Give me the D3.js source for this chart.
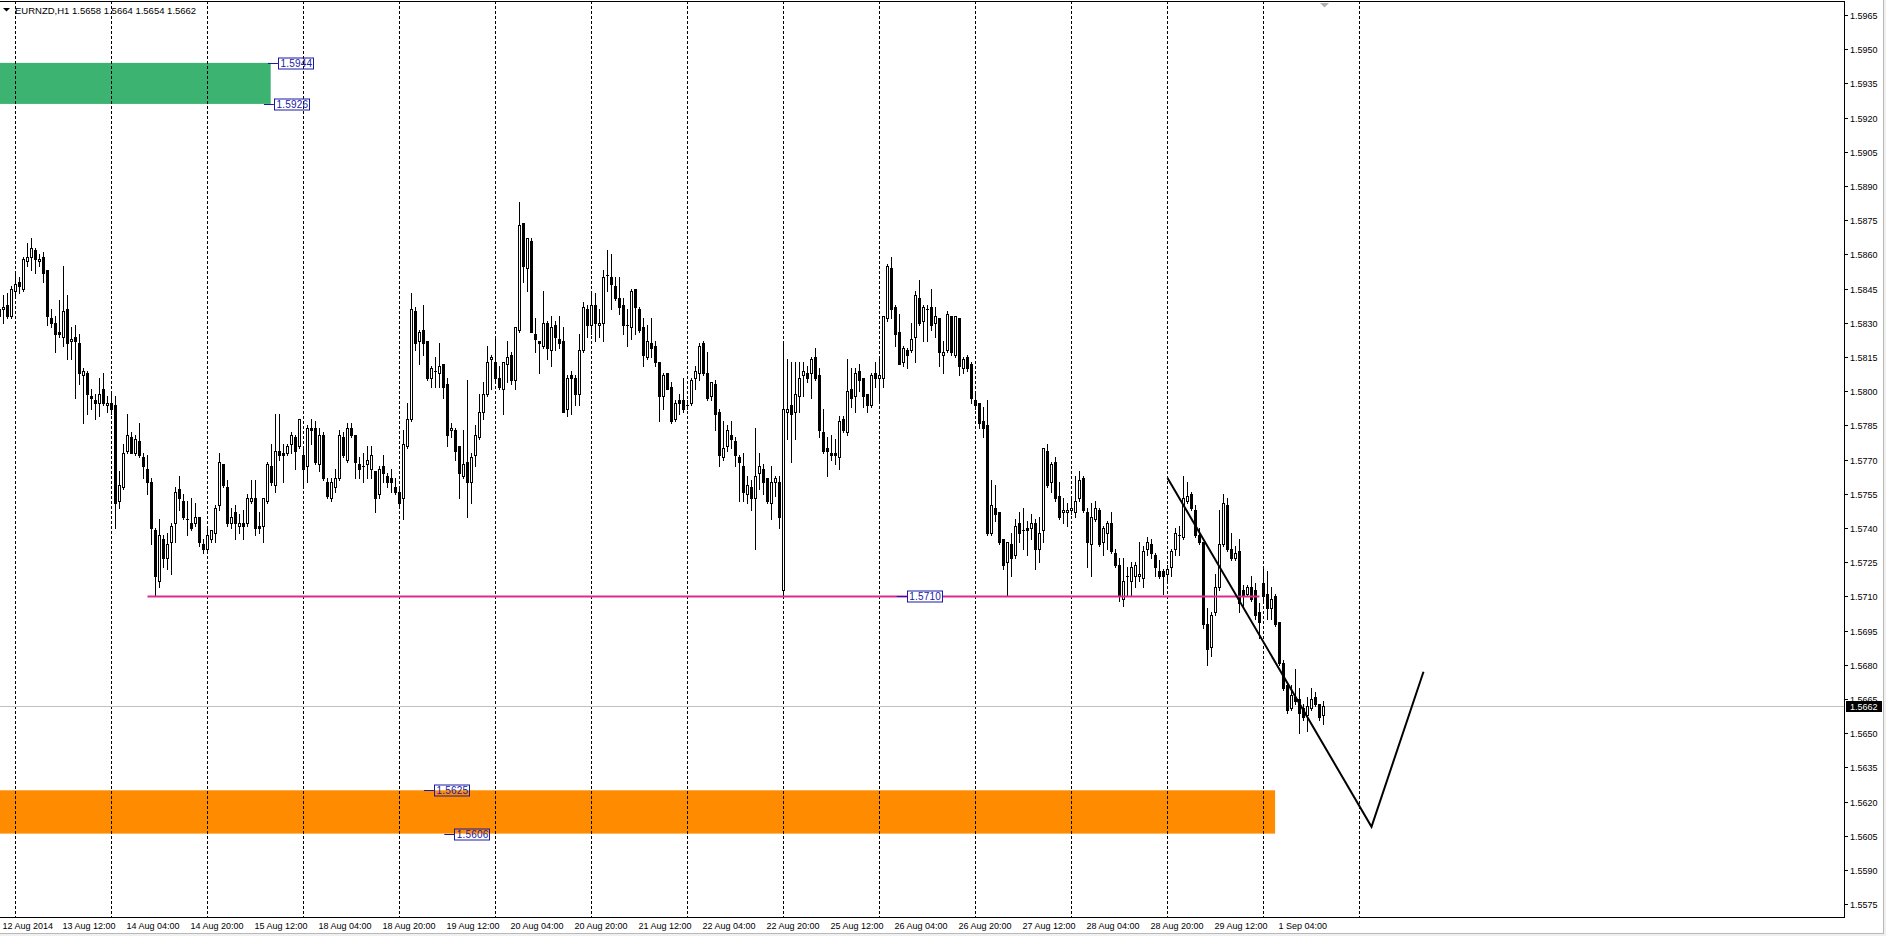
<!DOCTYPE html>
<html><head><meta charset="utf-8">
<script src="https://cdn.jsdelivr.net/npm/d3@7"></script>
<style>html,body{margin:0;padding:0;background:#fff;overflow:hidden}svg{display:block}</style>
</head><body><svg id="c" width="1886" height="936"></svg>
<script>
// ---------------- DATA ----------------
const symbolTitle = "EURNZD,H1";
const lastQuote = [1.5658, 1.5664, 1.5654, 1.5662];
const currentPrice = 1.5662;

const opens = [
1.5836,1.5836,1.5838,1.5833,1.5844,1.5848,1.5845,1.5857,1.5859,1.5862,
1.5857,1.5859,1.5853,1.5832,1.5830,1.5826,1.5824,1.5836,1.5822,1.5824,
1.5821,1.5807,1.5808,1.5798,1.5796,1.5795,1.5801,1.5794,1.5795,1.5794,
1.5752,1.5758,1.5774,1.5780,1.5773,1.5778,1.5771,1.5766,1.5760,1.5739,
1.5717,1.5735,1.5727,1.5734,1.5742,1.5757,1.5752,1.5744,1.5742,1.5742,
1.5745,1.5733,1.5731,1.5735,1.5738,1.5750,1.5768,1.5758,1.5742,1.5747,
1.5741,1.5742,1.5742,1.5752,1.5753,1.5741,1.5741,1.5752,1.5767,1.5759,
1.5774,1.5773,1.5773,1.5777,1.5780,1.5776,1.5772,1.5767,1.5784,1.5784,
1.5768,1.5781,1.5760,1.5753,1.5758,1.5762,1.5780,1.5770,1.5784,1.5781,
1.5768,1.5767,1.5768,1.5766,1.5765,1.5755,1.5767,1.5763,1.5762,1.5758,
1.5756,1.5753,1.5776,1.5788,1.5835,1.5822,1.5827,1.5822,1.5806,1.5809,
1.5808,1.5812,1.5803,1.5783,1.5783,1.5776,1.5763,1.5769,1.5760,1.5772,
1.5780,1.5791,1.5799,1.5814,1.5813,1.5806,1.5801,1.5812,1.5816,1.5805,
1.5827,1.5874,1.5854,1.5866,1.5825,1.5822,1.5820,1.5830,1.5818,1.5829,
1.5823,1.5822,1.5792,1.5807,1.5806,1.5799,1.5818,1.5836,1.5829,1.5838,
1.5829,1.5830,1.5851,1.5850,1.5846,1.5841,1.5838,1.5829,1.5828,1.5845,
1.5836,1.5828,1.5815,1.5821,1.5820,1.5813,1.5798,1.5808,1.5802,1.5788,
1.5796,1.5796,1.5794,1.5795,1.5806,1.5808,1.5821,1.5808,1.5798,1.5803,
1.5791,1.5771,1.5776,1.5781,1.5778,1.5771,1.5767,1.5755,1.5758,1.5753,
1.5764,1.5766,1.5762,1.5751,1.5760,1.5760,1.5713,1.5791,1.5794,1.5791,
1.5798,1.5807,1.5808,1.5808,1.5815,1.5807,1.5782,1.5775,1.5773,1.5773,
1.5771,1.5788,1.5782,1.5801,1.5798,1.5809,1.5806,1.5799,1.5794,1.5808,
1.5806,1.5806,1.5832,1.5854,1.5837,1.5826,1.5813,1.5818,1.5818,1.5824,
1.5841,1.5831,1.5836,1.5837,1.5830,1.5832,1.5816,1.5818,1.5833,1.5816,
1.5832,1.5810,1.5815,1.5812,1.5796,1.5795,1.5787,1.5785,1.5738,1.5749,
1.5747,1.5735,1.5725,1.5733,1.5728,1.5742,1.5739,1.5740,1.5740,1.5742,
1.5731,1.5739,1.5774,1.5760,1.5769,1.5754,1.5747,1.5747,1.5748,1.5747,
1.5753,1.5762,1.5747,1.5733,1.5744,1.5748,1.5734,1.5738,1.5742,1.5729,
1.5724,1.5709,1.5719,1.5717,1.5719,1.5719,1.5718,1.5731,1.5733,1.5728,
1.5721,1.5721,1.5720,1.5723,1.5731,1.5737,1.5736,1.5752,1.5755,1.5748,
1.5737,1.5734,1.5698,1.5688,1.5703,1.5714,1.5733,1.5750,1.5731,1.5727,
1.5730,1.5713,1.5711,1.5714,1.5713,1.5703,1.5716,1.5711,1.5705,1.5710,
1.5699,1.5681,1.5671,1.5661,1.5666,1.5665,1.5661,1.5658,1.5661,1.5666,
1.5663,1.5658];

const highs = [
1.5837,1.5842,1.5843,1.5846,1.5852,1.5850,1.5859,1.5865,1.5867,1.5863,
1.5860,1.5861,1.5853,1.5836,1.5833,1.5840,1.5855,1.5842,1.5828,1.5829,
1.5825,1.5810,1.5809,1.5801,1.5799,1.5806,1.5808,1.5798,1.5799,1.5798,
1.5765,1.5777,1.5790,1.5782,1.5781,1.5786,1.5773,1.5772,1.5762,1.5740,
1.5744,1.5737,1.5738,1.5742,1.5758,1.5763,1.5755,1.5752,1.5753,1.5751,
1.5745,1.5735,1.5741,1.5739,1.5750,1.5773,1.5768,1.5761,1.5749,1.5750,
1.5746,1.5748,1.5755,1.5761,1.5761,1.5747,1.5753,1.5769,1.5777,1.5790,
1.5790,1.5777,1.5777,1.5782,1.5781,1.5788,1.5775,1.5785,1.5788,1.5787,
1.5784,1.5782,1.5762,1.5762,1.5766,1.5783,1.5782,1.5786,1.5786,1.5781,
1.5771,1.5773,1.5776,1.5776,1.5765,1.5767,1.5772,1.5764,1.5766,1.5762,
1.5757,1.5783,1.5795,1.5843,1.5837,1.5827,1.5838,1.5822,1.5811,1.5815,
1.5821,1.5812,1.5806,1.5786,1.5784,1.5776,1.5783,1.5805,1.5773,1.5785,
1.5799,1.5804,1.5820,1.5816,1.5824,1.5811,1.5813,1.5822,1.5817,1.5828,
1.5883,1.5874,1.5867,1.5867,1.5832,1.5822,1.5844,1.5831,1.5833,1.5831,
1.5833,1.5828,1.5807,1.5809,1.5807,1.5825,1.5839,1.5838,1.5843,1.5843,
1.5836,1.5853,1.5862,1.5860,1.5850,1.5850,1.5841,1.5836,1.5845,1.5845,
1.5837,1.5832,1.5829,1.5832,1.5822,1.5813,1.5808,1.5808,1.5804,1.5796,
1.5799,1.5806,1.5796,1.5806,1.5811,1.5821,1.5822,1.5817,1.5804,1.5805,
1.5792,1.5787,1.5785,1.5787,1.5780,1.5772,1.5773,1.5763,1.5761,1.5784,
1.5773,1.5768,1.5762,1.5767,1.5763,1.5763,1.5821,1.5814,1.5813,1.5813,
1.5813,1.5813,1.5811,1.5815,1.5819,1.5810,1.5792,1.5780,1.5781,1.5779,
1.5789,1.5789,1.5814,1.5810,1.5810,1.5812,1.5806,1.5799,1.5808,1.5813,
1.5814,1.5833,1.5856,1.5859,1.5838,1.5834,1.5820,1.5819,1.5830,1.5844,
1.5849,1.5838,1.5838,1.5845,1.5837,1.5832,1.5822,1.5835,1.5833,1.5833,
1.5832,1.5815,1.5816,1.5813,1.5799,1.5795,1.5793,1.5796,1.5761,1.5759,
1.5747,1.5735,1.5734,1.5738,1.5744,1.5747,1.5749,1.5743,1.5746,1.5744,
1.5745,1.5775,1.5777,1.5769,1.5771,1.5760,1.5753,1.5751,1.5754,1.5763,
1.5765,1.5763,1.5749,1.5751,1.5752,1.5749,1.5741,1.5743,1.5747,1.5731,
1.5727,1.5727,1.5723,1.5725,1.5725,1.5734,1.5732,1.5736,1.5735,1.5729,
1.5726,1.5722,1.5724,1.5731,1.5740,1.5741,1.5763,1.5760,1.5756,1.5750,
1.5740,1.5734,1.5705,1.5703,1.5720,1.5748,1.5755,1.5753,1.5738,1.5732,
1.5735,1.5715,1.5715,1.5719,1.5716,1.5707,1.5722,1.5721,1.5714,1.5711,
1.5699,1.5682,1.5672,1.5671,1.5678,1.5670,1.5663,1.5666,1.5670,1.5668,
1.5663,1.5664];

const lows = [
1.5830,1.5830,1.5832,1.5832,1.5841,1.5843,1.5844,1.5855,1.5853,1.5852,
1.5855,1.5848,1.5829,1.5828,1.5817,1.5824,1.5820,1.5814,1.5814,1.5797,
1.5803,1.5786,1.5790,1.5792,1.5788,1.5789,1.5794,1.5791,1.5790,1.5740,
1.5749,1.5757,1.5773,1.5773,1.5772,1.5771,1.5762,1.5755,1.5733,1.5710,
1.5714,1.5723,1.5722,1.5720,1.5734,1.5748,1.5744,1.5737,1.5739,1.5741,
1.5732,1.5729,1.5730,1.5734,1.5734,1.5748,1.5758,1.5741,1.5740,1.5735,
1.5738,1.5735,1.5741,1.5751,1.5737,1.5738,1.5734,1.5751,1.5759,1.5756,
1.5770,1.5760,1.5772,1.5773,1.5766,1.5775,1.5759,1.5760,1.5777,1.5768,
1.5765,1.5761,1.5753,1.5752,1.5756,1.5761,1.5771,1.5769,1.5780,1.5762,
1.5762,1.5760,1.5762,1.5762,1.5747,1.5753,1.5760,1.5758,1.5756,1.5755,
1.5750,1.5744,1.5775,1.5787,1.5818,1.5812,1.5816,1.5805,1.5802,1.5802,
1.5802,1.5797,1.5776,1.5780,1.5770,1.5753,1.5762,1.5745,1.5751,1.5767,
1.5779,1.5788,1.5798,1.5801,1.5804,1.5801,1.5790,1.5804,1.5803,1.5801,
1.5826,1.5848,1.5844,1.5826,1.5817,1.5808,1.5819,1.5814,1.5811,1.5818,
1.5819,1.5791,1.5789,1.5790,1.5794,1.5794,1.5817,1.5824,1.5825,1.5822,
1.5824,1.5822,1.5844,1.5836,1.5840,1.5834,1.5825,1.5820,1.5823,1.5825,
1.5826,1.5811,1.5814,1.5815,1.5811,1.5787,1.5792,1.5801,1.5786,1.5787,
1.5790,1.5791,1.5792,1.5794,1.5801,1.5805,1.5807,1.5796,1.5796,1.5783,
1.5767,1.5770,1.5774,1.5775,1.5767,1.5752,1.5752,1.5751,1.5748,1.5731,
1.5757,1.5755,1.5751,1.5744,1.5754,1.5740,1.5710,1.5779,1.5769,1.5779,
1.5791,1.5798,1.5804,1.5797,1.5805,1.5780,1.5773,1.5763,1.5770,1.5768,
1.5766,1.5782,1.5781,1.5793,1.5791,1.5800,1.5793,1.5791,1.5793,1.5802,
1.5796,1.5802,1.5831,1.5832,1.5820,1.5812,1.5811,1.5810,1.5817,1.5813,
1.5829,1.5822,1.5822,1.5827,1.5824,1.5811,1.5808,1.5817,1.5816,1.5815,
1.5807,1.5808,1.5809,1.5795,1.5792,1.5784,1.5780,1.5737,1.5737,1.5743,
1.5733,1.5722,1.5710,1.5719,1.5727,1.5734,1.5731,1.5728,1.5735,1.5722,
1.5725,1.5734,1.5758,1.5756,1.5752,1.5744,1.5742,1.5741,1.5746,1.5745,
1.5752,1.5747,1.5723,1.5719,1.5743,1.5732,1.5728,1.5731,1.5729,1.5723,
1.5708,1.5706,1.5710,1.5710,1.5714,1.5717,1.5714,1.5728,1.5727,1.5719,
1.5718,1.5711,1.5716,1.5719,1.5728,1.5728,1.5735,1.5751,1.5748,1.5736,
1.5733,1.5696,1.5680,1.5684,1.5702,1.5713,1.5732,1.5730,1.5726,1.5726,
1.5703,1.5706,1.5710,1.5708,1.5700,1.5692,1.5708,1.5700,1.5700,1.5697,
1.5680,1.5669,1.5659,1.5660,1.5663,1.5650,1.5656,1.5651,1.5660,1.5662,
1.5656,1.5654];

const closes = [
1.5833,1.5837,1.5833,1.5845,1.5847,1.5846,1.5858,1.5859,1.5863,1.5858,
1.5858,1.5852,1.5833,1.5830,1.5825,1.5825,1.5835,1.5821,1.5823,1.5822,
1.5808,1.5809,1.5799,1.5797,1.5795,1.5799,1.5795,1.5795,1.5792,1.5751,
1.5759,1.5773,1.5781,1.5773,1.5779,1.5772,1.5767,1.5760,1.5740,1.5719,
1.5737,1.5727,1.5733,1.5741,1.5756,1.5753,1.5745,1.5744,1.5740,1.5745,
1.5734,1.5731,1.5737,1.5739,1.5749,1.5769,1.5759,1.5742,1.5745,1.5742,
1.5742,1.5741,1.5753,1.5753,1.5740,1.5740,1.5753,1.5768,1.5760,1.5774,
1.5772,1.5772,1.5776,1.5781,1.5774,1.5788,1.5766,1.5784,1.5783,1.5769,
1.5781,1.5762,1.5754,1.5760,1.5762,1.5781,1.5772,1.5784,1.5781,1.5769,
1.5766,1.5767,1.5770,1.5772,1.5753,1.5766,1.5764,1.5760,1.5760,1.5756,
1.5751,1.5777,1.5788,1.5836,1.5821,1.5826,1.5821,1.5806,1.5810,1.5809,
1.5811,1.5802,1.5781,1.5784,1.5774,1.5764,1.5768,1.5760,1.5771,1.5781,
1.5791,1.5799,1.5813,1.5815,1.5806,1.5802,1.5813,1.5815,1.5805,1.5828,
1.5873,1.5855,1.5867,1.5826,1.5823,1.5821,1.5830,1.5819,1.5828,1.5824,
1.5821,1.5791,1.5806,1.5806,1.5799,1.5818,1.5837,1.5829,1.5838,1.5830,
1.5830,1.5850,1.5851,1.5847,1.5841,1.5837,1.5829,1.5829,1.5844,1.5837,
1.5827,1.5816,1.5822,1.5819,1.5813,1.5798,1.5807,1.5801,1.5787,1.5795,
1.5795,1.5792,1.5794,1.5805,1.5809,1.5820,1.5808,1.5797,1.5804,1.5790,
1.5772,1.5775,1.5783,1.5779,1.5772,1.5769,1.5756,1.5759,1.5753,1.5763,
1.5767,1.5760,1.5752,1.5760,1.5762,1.5745,1.5792,1.5792,1.5790,1.5799,
1.5806,1.5809,1.5806,1.5814,1.5806,1.5783,1.5774,1.5774,1.5772,1.5772,
1.5787,1.5783,1.5800,1.5797,1.5808,1.5805,1.5798,1.5794,1.5807,1.5806,
1.5807,1.5833,1.5855,1.5836,1.5825,1.5812,1.5819,1.5816,1.5823,1.5842,
1.5830,1.5837,1.5836,1.5829,1.5833,1.5817,1.5817,1.5834,1.5817,1.5833,
1.5811,1.5814,1.5810,1.5797,1.5794,1.5786,1.5784,1.5738,1.5750,1.5746,
1.5734,1.5724,1.5734,1.5727,1.5741,1.5738,1.5739,1.5739,1.5742,1.5731,
1.5738,1.5775,1.5759,1.5768,1.5753,1.5745,1.5748,1.5748,1.5749,1.5752,
1.5761,1.5748,1.5734,1.5745,1.5749,1.5733,1.5740,1.5742,1.5730,1.5724,
1.5710,1.5717,1.5719,1.5723,1.5724,1.5720,1.5730,1.5734,1.5729,1.5723,
1.5719,1.5719,1.5722,1.5730,1.5738,1.5737,1.5753,1.5754,1.5749,1.5737,
1.5734,1.5698,1.5687,1.5702,1.5714,1.5733,1.5751,1.5731,1.5727,1.5729,
1.5707,1.5710,1.5714,1.5709,1.5702,1.5699,1.5710,1.5705,1.5709,1.5698,
1.5681,1.5670,1.5660,1.5667,1.5664,1.5659,1.5657,1.5662,1.5665,1.5663,
1.5657,1.5662];

// time axis: bar index of each label, and its text
const timeLabelBars = [0,15,31,47,63,79,95,111,127,143,159,175,191,207,223,239,255,271,287,303,319];
const timeLabels = ["12 Aug 2014","13 Aug 12:00","14 Aug 04:00","14 Aug 20:00","15 Aug 12:00",
  "18 Aug 04:00","18 Aug 20:00","19 Aug 12:00","20 Aug 04:00","20 Aug 20:00","21 Aug 12:00",
  "22 Aug 04:00","22 Aug 20:00","25 Aug 12:00","26 Aug 04:00","26 Aug 20:00","27 Aug 12:00",
  "28 Aug 04:00","28 Aug 20:00","29 Aug 12:00","1 Sep 04:00"];
const gridBars = [4,28,52,76,100,124,148,172,196,220,244,268,292,316,340];
const priceTicks = [1.5965,1.5950,1.5935,1.5920,1.5905,1.5890,1.5875,1.5860,1.5845,1.5830,
  1.5815,1.5800,1.5785,1.5770,1.5755,1.5740,1.5725,1.5710,1.5695,1.5680,1.5665,1.5650,
  1.5635,1.5620,1.5605,1.5590,1.5575];

// zones (supply / demand rectangles)
const zoneTop = [1.5944, 1.5625];
const zoneBottom = [1.5926, 1.5606];
const zoneEndBar = [67.8, 318.9];
// support level
const supportLevel = 1.5710;
const supportBars = [37, 315];
// projected path
const pathBars = [292, 343, 356];
const pathPrices = [1.5762, 1.5609, 1.5677];
// price labels
const labelPrices = [1.5944, 1.5926, 1.5625, 1.5606, 1.5710];
const labelBars = [67.1, 66.1, 106.1, 111.2, 224.3];

// ---------------- DRAWING ----------------
const W = 1886, H = 936;
const plotRight = 1844, plotTop = 1, plotBottom = 917;
const font = "'Liberation Sans', Arial, sans-serif";
const svg = d3.select("#c");
const x = d3.scaleLinear().domain([0, 1]).range([-0.5, 3.5]);
const y = d3.scaleLinear().domain([1.5575, 1.5965]).range([904.3, 15]);
const zoneColors = ["#3cb371", "#ff8c00"];

svg.append("rect").attr("width", W).attr("height", H).attr("fill", "#fff");
// window chrome
svg.append("rect").attr("x", 1884).attr("y", 0).attr("width", 2).attr("height", H).attr("fill", "#f0f0f0");
svg.append("rect").attr("x", 0).attr("y", 934).attr("width", W).attr("height", 2).attr("fill", "#f0f0f0");
svg.append("line").attr("x1", 1883.5).attr("x2", 1883.5).attr("y1", 0).attr("y2", 934).attr("stroke", "#b8b8b8");
svg.append("line").attr("x1", 0).attr("x2", 1884).attr("y1", 933.5).attr("y2", 933.5).attr("stroke", "#b8b8b8");

svg.append("defs").append("clipPath").attr("id", "plot")
  .append("rect").attr("x", 0).attr("y", plotTop).attr("width", plotRight).attr("height", plotBottom - plotTop);
const g = svg.append("g").attr("clip-path", "url(#plot)");

// zones
zoneTop.forEach((t, k) => {
  g.append("rect").attr("x", x(-5)).attr("y", y(t))
    .attr("width", x(zoneEndBar[k]) - x(-5)).attr("height", y(zoneBottom[k]) - y(t))
    .attr("fill", zoneColors[k]);
});

// vertical grid
g.selectAll("line.grid").data(gridBars).enter().append("line")
  .attr("x1", d => x(d)).attr("x2", d => x(d)).attr("y1", plotTop).attr("y2", plotBottom)
  .attr("stroke", "#000").attr("stroke-width", 1).attr("stroke-dasharray", "3,2");

// current price line
const cpY = Math.round(y(currentPrice)) + 0.5;
g.append("line").attr("x1", 0).attr("x2", plotRight).attr("y1", cpY).attr("y2", cpY).attr("stroke", "#c0c0c0");

// candles
const cg = g.append("g");
opens.forEach((o, i) => {
  const c = closes[i];
  const hi = Math.max(highs[i], o, c), lo = Math.min(lows[i], o, c);
  const cx = x(i);
  const yh = Math.round(y(hi)), yl = Math.round(y(lo));
  cg.append("line").attr("x1", cx).attr("x2", cx).attr("y1", yh).attr("y2", yl + 1)
    .attr("stroke", "#000").attr("stroke-width", 1);
  const yt = Math.round(y(Math.max(o, c))), yb = Math.round(y(Math.min(o, c)));
  if (yb - yt < 1) {
    cg.append("rect").attr("x", cx - 1.5).attr("y", yt).attr("width", 3).attr("height", 1).attr("fill", "#000");
  } else if (c >= o) {
    cg.append("rect").attr("x", cx - 1).attr("y", yt + 0.5).attr("width", 2).attr("height", yb - yt)
      .attr("fill", "#fff").attr("stroke", "#000").attr("stroke-width", 1);
  } else {
    cg.append("rect").attr("x", cx - 1.5).attr("y", yt).attr("width", 3).attr("height", yb - yt + 1)
      .attr("fill", "#000");
  }
});

// support line
g.append("line").attr("x1", x(supportBars[0])).attr("x2", x(supportBars[1]))
  .attr("y1", y(supportLevel)).attr("y2", y(supportLevel))
  .attr("stroke", "#df2a8d").attr("stroke-width", 2);

// projected path
g.append("path").datum(pathBars.map((b, k) => [b, pathPrices[k]]))
  .attr("d", d3.line().x(d => x(d[0])).y(d => y(d[1])))
  .attr("fill", "none").attr("stroke", "#000").attr("stroke-width", 2).attr("stroke-linejoin", "miter");

// price labels
labelPrices.forEach((p, k) => {
  const x0 = x(labelBars[k]), yy = Math.round(y(p)) + 0.5;
  g.append("line").attr("x1", x0).attr("x2", x0 + 10).attr("y1", yy).attr("y2", yy)
    .attr("stroke", "#1a1aa6").attr("stroke-width", 1);
  g.append("rect").attr("x", Math.round(x0 + 10) + 0.5).attr("y", yy - 5.5).attr("width", 35).attr("height", 11)
    .attr("fill", k === 4 ? "#fff" : "none").attr("stroke", "#1a1aa6").attr("stroke-width", 1);
  g.append("text").attr("x", x0 + 12.5).attr("y", yy).attr("dy", "0.36em")
    .attr("font-family", font).attr("font-size", 10).attr("fill", "#1a1aa6")
    .attr("letter-spacing", 0.2).text(p.toFixed(4));
});

// chart shift marker
const sx = Math.round(x(opens.length - 1));
svg.append("path").attr("d", `M${sx - 4},3 L${sx + 5},3 L${sx + 0.5},7.5 Z`).attr("fill", "#b0b0b0");

// frame
svg.append("line").attr("x1", 0).attr("x2", plotRight + 1).attr("y1", 1.5).attr("y2", 1.5).attr("stroke", "#000");
svg.append("line").attr("x1", plotRight + 0.5).attr("x2", plotRight + 0.5).attr("y1", 1).attr("y2", plotBottom + 1).attr("stroke", "#000");
svg.append("line").attr("x1", 0).attr("x2", plotRight + 1).attr("y1", plotBottom + 0.5).attr("y2", plotBottom + 0.5).attr("stroke", "#000");

// y axis
const ya = svg.append("g");
priceTicks.forEach(p => {
  const yy = Math.round(y(p)) + 0.5;
  ya.append("line").attr("x1", plotRight + 1).attr("x2", plotRight + 4).attr("y1", yy).attr("y2", yy).attr("stroke", "#000");
  ya.append("text").attr("x", 1850).attr("y", yy).attr("dy", "0.35em")
    .attr("font-family", font).attr("font-size", 9).attr("fill", "#000").text(p.toFixed(4));
});
// current price tag
ya.append("rect").attr("x", 1846).attr("y", cpY - 5.5).attr("width", 36).attr("height", 11).attr("fill", "#000");
ya.append("text").attr("x", 1850).attr("y", cpY).attr("dy", "0.35em")
  .attr("font-family", font).attr("font-size", 9).attr("fill", "#fff").text(currentPrice.toFixed(4));

// x axis labels
const xa = svg.append("g");
timeLabelBars.forEach((b, k) => {
  xa.append("text").attr("x", Math.max(1, x(b) + 3)).attr("y", 926).attr("dy", "0.35em")
    .attr("font-family", font).attr("font-size", 9).attr("fill", "#000").text(timeLabels[k]);
});

// header
svg.append("path").attr("d", "M3,8 L10,8 L6.5,11.5 Z").attr("fill", "#000");
svg.append("text").attr("x", 15).attr("y", 11).attr("dy", "0.35em")
  .attr("font-family", font).attr("font-size", 9.5).attr("fill", "#000")
  .text(symbolTitle + "  " + lastQuote.map(v => v.toFixed(4)).join(" "));
</script>
</body></html>
